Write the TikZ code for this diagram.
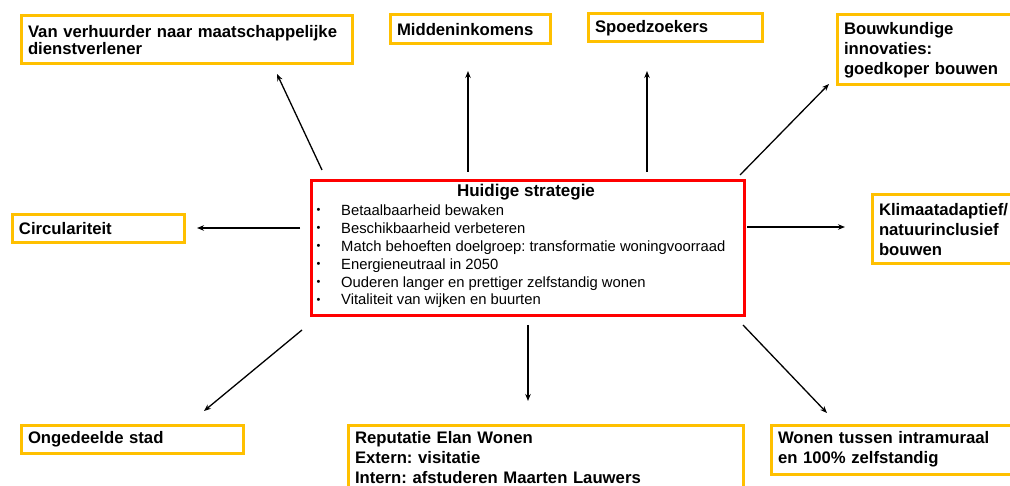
\documentclass[tikz,border=0pt]{standalone}
\usepackage{fontspec}
\setmainfont{Liberation Sans}
\usetikzlibrary{arrows.meta}
\definecolor{boxorange}{HTML}{FFC000}
\definecolor{boxred}{HTML}{FF0000}
\frenchspacing
\begin{document}
\begin{tikzpicture}[x=1pt,y=-1pt,
  obox/.style={draw=boxorange, line width=3pt, anchor=north west, align=left,
    inner xsep=7pt, inner ysep=6pt, text=black,
    font=\bfseries\fontsize{16.7}{20}\selectfont},
  sbox/.style={draw=boxred, line width=3pt, anchor=north west, inner sep=0pt},
  arr/.style={draw=black, line width=1.3pt, -{Stealth[length=7pt,width=5.5pt]}},
  listtext/.style={anchor=north west, align=left, inner sep=0pt,
    font=\fontsize{14.8}{17.9}\selectfont}
]
\useasboundingbox (0,0) rectangle (1010,486);
\fill[white] (0,0) rectangle (1010,486);

% outer boxes
\node[obox, text width=317pt, minimum height=48pt, font=\bfseries\fontsize{16.7}{17.5}\selectfont] (verh) at (19.5,14.5)
  {Van verhuurder naar maatschappelijke\\dienstverlener};
\node[obox, text width=146pt, minimum height=29pt] (midd) at (388.5,13.5) {Middeninkomens};
\node[obox, text width=160pt, minimum height=28pt] (spoed) at (586.5,12.5) {Spoedzoekers};
\node[obox, text width=162pt, minimum height=70pt] (bouw) at (835.5,13.5)
  {Bouwkundige\\innovaties:\\goedkoper bouwen};
\node[obox, text width=158pt, minimum height=28pt] (circ) at (10.5,213.5) {Circulariteit};
\node[obox, text width=130pt, minimum height=69pt] (klim) at (870.5,193.5)
  {Klimaatadaptief/\\natuurinclusief\\bouwen};
\node[obox, text width=208pt, minimum height=28pt] (onge) at (19.5,423.5) {Ongedeelde stad};
\node[obox, text width=381pt, minimum height=80pt, anchor=north west] (rep) at (346.5,423.5)
  {Reputatie Elan Wonen\\Extern: visitatie\\Intern: afstuderen Maarten Lauwers\\[6pt]\strut};
\node[obox, text width=230pt, minimum height=49pt] (wonen) at (769.5,423.5)
  {Wonen tussen intramuraal\\en 100\% zelfstandig};

% central box
\node[sbox, minimum width=433pt, minimum height=135pt] (strat) at (309.5,179.5) {};
\node[anchor=base, inner sep=0pt, font=\bfseries\fontsize{17}{20}\selectfont] (title) at (526,197) {Huidige strategie};
\node[listtext] (list) at (316.5,204.5)
  {\makebox[24.5pt][l]{\fontsize{11}{17.9}\selectfont\raisebox{1.5pt}{•}}Betaalbaarheid bewaken\\
   \makebox[24.5pt][l]{\fontsize{11}{17.9}\selectfont\raisebox{1.5pt}{•}}Beschikbaarheid verbeteren\\
   \makebox[24.5pt][l]{\fontsize{11}{17.9}\selectfont\raisebox{1.5pt}{•}}Match behoeften doelgroep: transformatie woningvoorraad\\
   \makebox[24.5pt][l]{\fontsize{11}{17.9}\selectfont\raisebox{1.5pt}{•}}Energieneutraal in 2050\\
   \makebox[24.5pt][l]{\fontsize{11}{17.9}\selectfont\raisebox{1.5pt}{•}}Ouderen langer en prettiger zelfstandig wonen\\
   \makebox[24.5pt][l]{\fontsize{11}{17.9}\selectfont\raisebox{1.5pt}{•}}Vitaliteit van wijken en buurten};

% arrow end points
\coordinate (a1s) at (322,170); \coordinate (a1e) at (277,74);
\coordinate (a2s) at (468,172); \coordinate (a2e) at (468,71);
\coordinate (a3s) at (647,172); \coordinate (a3e) at (647,71);
\coordinate (a4s) at (740,175); \coordinate (a4e) at (829,84);
\coordinate (a5s) at (300,228); \coordinate (a5e) at (197,228);
\coordinate (a6s) at (747,227); \coordinate (a6e) at (845,227);
\coordinate (a7s) at (302,330); \coordinate (a7e) at (204,411);
\coordinate (a8s) at (528,325); \coordinate (a8e) at (528,401);
\coordinate (a9s) at (743,325); \coordinate (a9e) at (827,413);

\draw[arr] (a1s) -- (a1e);
\draw[arr] (a2s) -- (a2e);
\draw[arr] (a3s) -- (a3e);
\draw[arr] (a4s) -- (a4e);
\draw[arr] (a5s) -- (a5e);
\draw[arr] (a6s) -- (a6e);
\draw[arr] (a7s) -- (a7e);
\draw[arr] (a8s) -- (a8e);
\draw[arr] (a9s) -- (a9e);
\end{tikzpicture}
\end{document}
